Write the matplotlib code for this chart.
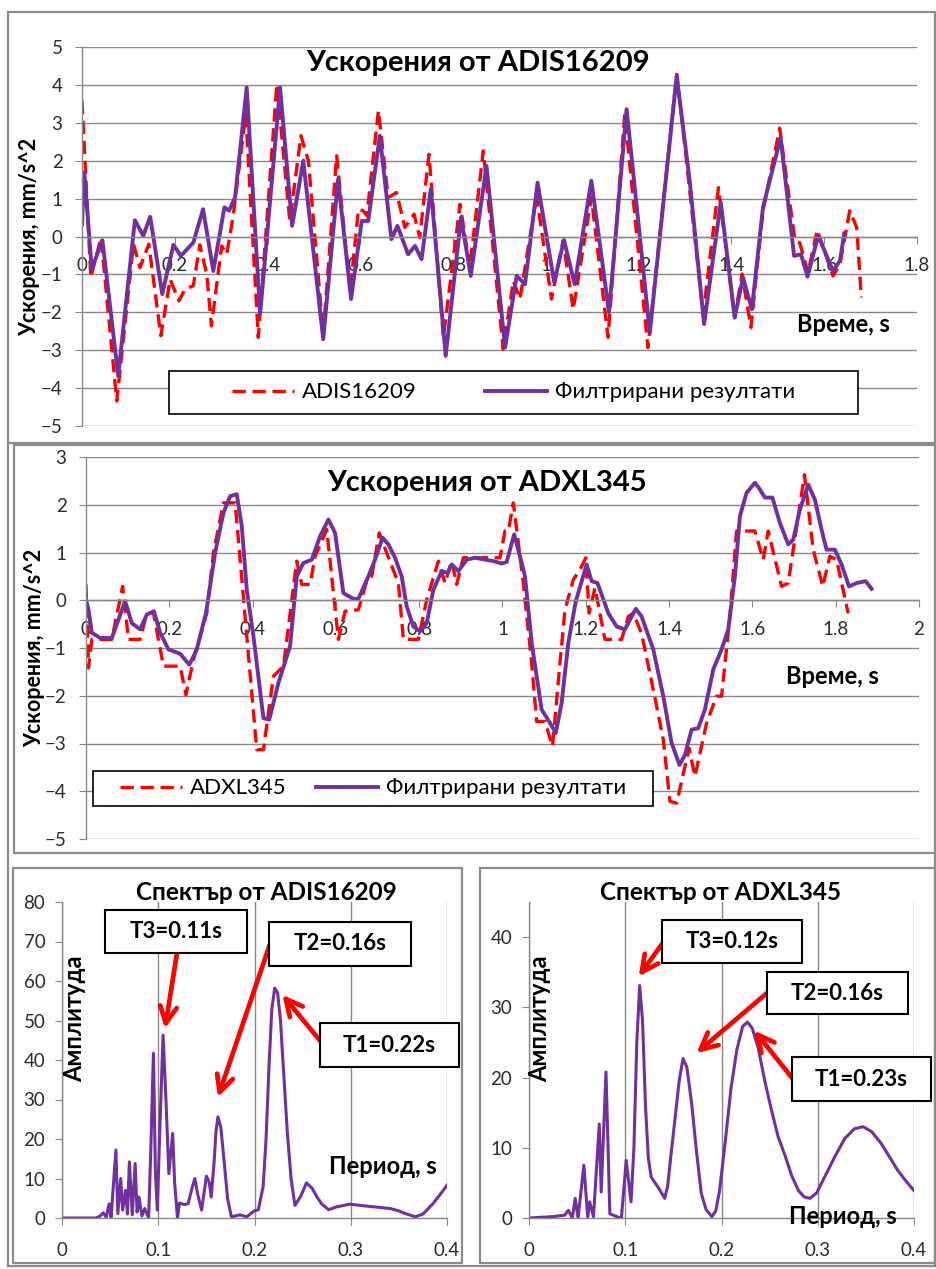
import matplotlib
matplotlib.use('Agg')
import matplotlib.pyplot as plt
from matplotlib.patches import Rectangle
from matplotlib.lines import Line2D

plt.rcParams['font.family'] = ['Lato', 'DejaVu Sans']

W, H = 937, 1269

def fx(px):
    return px / W

def fy(py):
    return 1 - py / H

# ---- ADIS16209: сурови данни и филтрирани резултати ----
t_adis = [0, 0.019, 0.041, 0.075, 0.111, 0.125, 0.144, 0.170, 0.19, 0.209, 0.222, 0.24, 0.254,
          0.269, 0.279, 0.301, 0.312, 0.326, 0.353, 0.38, 0.42, 0.448, 0.472, 0.488, 0.52, 0.549,
          0.578, 0.596, 0.606, 0.614, 0.639, 0.66, 0.678, 0.696, 0.716, 0.728, 0.748, 0.779, 0.815,
          0.836, 0.865, 0.908, 0.93, 0.944, 0.98, 1.012, 1.037, 1.059, 1.098, 1.134, 1.17, 1.22,
          1.282, 1.307, 1.339, 1.372, 1.407, 1.423, 1.442, 1.468, 1.504, 1.537, 1.547, 1.565,
          1.585, 1.619, 1.634, 1.655, 1.67, 1.68]
a_adis = [3.58, -1.08, -0.03, -4.34, -0.2, -0.82, -0.2, -2.62, -1.13, -1.7, -1.39, -1.3, -0.22,
          -1.0, -2.36, -0.25, -0.47, 0.55, 3.23, -2.66, 4.02, 0.41, 2.66, 2.0, -2.58, 2.13,
          -1.43, 0.72, 0.68, 0.55, 3.32, 1.03, 1.16, 0.24, 0.59, -0.03, 2.17, -2.66, 0.85,
          -0.82, 2.26, -2.97, -1.17, -1.65, 1.07, -1.65, -0.11, -1.92, 1.03, -2.66, 3.23, -2.93,
          4.28, 1.56, -2.05, 1.29, -2.14, -0.99, -2.4, 0.68, 2.86, -0.11, -0.16, -0.95,
          0.17, -1.04, -0.73, 0.68, 0.24, -1.61]

t_adis_f = [0, 0.005, 0.021, 0.044, 0.078, 0.114, 0.132, 0.147, 0.173, 0.197, 0.213, 0.24, 0.261,
            0.283, 0.307, 0.317, 0.33, 0.355, 0.384, 0.427, 0.453, 0.477, 0.52, 0.552, 0.58,
            0.603, 0.617, 0.642, 0.667, 0.68, 0.703, 0.718, 0.732, 0.752, 0.784, 0.817, 0.838,
            0.872, 0.912, 0.937, 0.955, 0.982, 1.018, 1.039, 1.062, 1.098, 1.136, 1.174, 1.224,
            1.282, 1.31, 1.341, 1.377, 1.407, 1.425, 1.444, 1.468, 1.506, 1.535, 1.55, 1.564,
            1.587, 1.619, 1.634, 1.643]
a_adis_f = [0.33, 1.69, -0.86, -0.1, -3.68, 0.43, 0.02, 0.52, -1.52, -0.22, -0.51, -0.16, 0.72,
            -0.91, 0.77, 0.68, 1.03, 3.93, -2.05, 3.93, 0.28, 2.0, -2.71, 1.51, -1.65,
            0.41, 0.41, 2.66, -0.07, 0.28, -0.47, -0.25, -0.6, 1.25, -3.15, 0.5, -1.04,
            1.86, -2.93, -1.04, -1.26, 1.42, -1.21, -0.09, -1.26, 1.47, -2.0, 3.36, -2.53,
            4.24, 1.47, -2.31, 0.9, -2.14, -1.08, -1.92, 0.77, 2.61, -0.51, -0.47, -1.06,
            0.02, -0.91, -0.64, 0.08]

# ---- ADXL345 ----
t_adxl = [0, 0.006, 0.014, 0.062, 0.088, 0.102, 0.13, 0.146, 0.162, 0.186, 0.226, 0.24, 0.258,
          0.29, 0.306, 0.33, 0.358, 0.368, 0.386, 0.41, 0.426, 0.45, 0.474, 0.506, 0.518, 0.538,
          0.55, 0.578, 0.606, 0.622, 0.654, 0.674, 0.686, 0.704, 0.722, 0.75, 0.762, 0.798,
          0.818, 0.846, 0.862, 0.878, 0.89, 0.906, 0.994, 1.006, 1.014, 1.026, 1.034, 1.05,
          1.07, 1.082, 1.102, 1.12, 1.138, 1.15, 1.17, 1.186, 1.2, 1.208, 1.222, 1.246, 1.286,
          1.302, 1.314, 1.334, 1.362, 1.386, 1.402, 1.418, 1.448, 1.462, 1.49, 1.514, 1.526,
          1.546, 1.562, 1.606, 1.626, 1.638, 1.67, 1.686, 1.725, 1.746, 1.769, 1.786, 1.802, 1.83]
a_adxl = [0.33, -1.42, -0.82, -0.82, 0.29, -0.82, -0.82, -0.27, -0.27, -1.38, -1.38, -1.98, -1.24,
          -0.27, 0.99, 2.04, 2.04, 1.06, -0.75, -3.13, -3.13, -1.59, -1.38, 0.82, 0.33, 0.33,
          0.92, 1.48, -0.82, -0.23, -0.2, 0.4, 0.5, 1.41, 0.99, 0.36, -0.82, -0.82,
          0.01, 0.82, 0.36, 0.82, 0.33, 0.89, 0.89, 1.45, 1.45, 2.04, 1.48, 0.36,
          -1.31, -2.54, -2.54, -3.06, -1.31, -0.2, 0.43, 0.64, 0.89, -0.27, 0.26, -0.82, -0.82,
          -0.34, -0.27, -0.7, -1.87, -2.92, -4.21, -4.25, -3.1, -3.69, -2.57, -2.01, -2.01,
          -0.34, 1.45, 1.45, 0.85, 1.45, 0.29, 0.36, 2.63, 1.06, 0.29, 0.92, 0.85, -0.27]

t_adxl_f = [0, 0.006, 0.014, 0.034, 0.062, 0.094, 0.11, 0.13, 0.146, 0.163, 0.178, 0.198, 0.226,
            0.248, 0.266, 0.288, 0.31, 0.33, 0.346, 0.362, 0.374, 0.386, 0.402, 0.426, 0.44,
            0.462, 0.49, 0.506, 0.522, 0.542, 0.562, 0.582, 0.598, 0.618, 0.642, 0.654, 0.678,
            0.694, 0.712, 0.726, 0.742, 0.758, 0.77, 0.786, 0.802, 0.818, 0.834, 0.854, 0.868,
            0.878, 0.894, 0.914, 0.934, 0.978, 0.998, 1.01, 1.028, 1.042, 1.054, 1.07, 1.094,
            1.114, 1.128, 1.142, 1.158, 1.176, 1.202, 1.214, 1.228, 1.254, 1.274, 1.294, 1.32,
            1.334, 1.362, 1.386, 1.406, 1.425, 1.438, 1.454, 1.47, 1.486, 1.506, 1.526, 1.542,
            1.558, 1.57, 1.586, 1.606, 1.618, 1.63, 1.648, 1.666, 1.686, 1.698, 1.714, 1.734,
            1.75, 1.766, 1.778, 1.798, 1.814, 1.832, 1.85, 1.872, 1.886]
a_adxl_f = [0.01, -0.2, -0.68, -0.79, -0.79, -0.02, -0.48, -0.61, -0.3, -0.23, -0.68, -1.03, -1.12,
            -1.35, -1.03, -0.27, 0.99, 1.83, 2.18, 2.22, 1.55, 0.22, -0.75, -2.47, -2.5,
            -1.73, -0.96, 0.5, 0.78, 0.85, 1.34, 1.69, 1.41, 0.15, 0.03, 0.03, 0.5,
            0.85, 1.31, 1.17, 0.89, 0.5, -0.13, -0.55, -0.65, -0.48, 0.22, 0.61, 0.57,
            0.75, 0.61, 0.85, 0.89, 0.82, 0.77, 0.8, 1.38, 0.92, 0.5, -0.89, -2.29,
            -2.57, -2.78, -2.15, -0.89, -0.02, 0.75, 0.4, 0.36, -0.27, -0.55, -0.61, -0.18,
            -0.34, -1.03, -2.01, -2.99, -3.45, -3.24, -2.71, -2.68, -2.29, -1.45, -1.03, -0.61,
            0.5, 1.76, 2.25, 2.46, 2.32, 2.15, 2.15, 1.62, 1.17, 1.27, 1.9, 2.42,
            2.11, 1.48, 1.06, 1.06, 0.75, 0.29, 0.36, 0.4, 0.24]

# ---- Спектри ----
p_adis = [0, 0.035, 0.039, 0.043, 0.046, 0.049, 0.051, 0.056, 0.058, 0.061, 0.063, 0.066, 0.068,
          0.070, 0.073, 0.076, 0.078, 0.080, 0.083, 0.086, 0.09, 0.092, 0.095, 0.097, 0.099,
          0.102, 0.105, 0.108, 0.111, 0.115, 0.117, 0.12, 0.122, 0.127, 0.131, 0.135, 0.138,
          0.141, 0.145, 0.148, 0.150, 0.153, 0.155, 0.158, 0.160, 0.162, 0.165, 0.169, 0.172,
          0.176, 0.185, 0.192, 0.199, 0.204, 0.209, 0.212, 0.215, 0.218, 0.221, 0.224, 0.227,
          0.23, 0.234, 0.238, 0.242, 0.248, 0.254, 0.26, 0.265, 0.27, 0.277, 0.285, 0.299,
          0.317, 0.341, 0.35, 0.357, 0.367, 0.375, 0.385, 0.393, 0.4]
amp_adis = [0, 0, 0.4, 1.3, 0.2, 3.6, 0.2, 17.2, 1.1, 10, 2, 7, 1,
            14.2, 0.8, 13.8, 1.5, 5.3, 0.5, 2.4, 0, 15, 41.7, 12, 2,
            25, 46.3, 30, 11.2, 21.4, 9, 0, 3.8, 3.4, 3.6, 7.5, 10,
            6, 2, 7, 10.6, 9, 5.3, 14, 22, 25.6, 23, 12.9, 5,
            0.3, 0.8, 0.3, 1.7, 2.1, 8, 20, 38, 53, 58.2, 57, 50,
            38, 22, 10, 3.2, 5.5, 8.9, 7.5, 5.3, 3.5, 2.1, 2.8, 3.5,
            3, 2.4, 1.8, 1.1, 0.3, 1.0, 3.5, 6, 8.3]

p_adxl = [0, 0.025, 0.037, 0.041, 0.045, 0.048, 0.051, 0.057, 0.061, 0.063, 0.067, 0.073, 0.075,
          0.08, 0.084, 0.093, 0.096, 0.101, 0.106, 0.109, 0.112, 0.115, 0.118, 0.121, 0.124,
          0.127, 0.134, 0.138, 0.141, 0.144, 0.148, 0.152, 0.156, 0.16, 0.164, 0.169, 0.174,
          0.179, 0.184, 0.19, 0.194, 0.198, 0.204, 0.21, 0.216, 0.222, 0.227, 0.232, 0.238,
          0.245, 0.252, 0.259, 0.266, 0.273, 0.28, 0.286, 0.292, 0.299, 0.307, 0.318, 0.328,
          0.338, 0.347, 0.356, 0.366, 0.375, 0.383, 0.392, 0.4]
amp_adxl = [0, 0.2, 0.4, 1.1, 0, 2.8, 0, 7.5, 0.1, 2.3, 0.2, 13.4, 3.7,
            20.8, 0.6, 0.1, 0, 8.2, 2.3, 10, 25, 33.1, 28, 16, 8.5,
            5.8, 4.4, 3.5, 2.8, 4.5, 9.6, 14.5, 19.5, 22.7, 21.5, 16.3, 9.5,
            3.5, 1.2, 0.2, 1.0, 3.9, 11, 18.6, 24, 27.3, 27.9, 27, 24.3,
            19.5, 15.3, 11.5, 8.9, 6, 3.9, 3.0, 2.8, 3.6, 5.8, 8.8, 11.3,
            12.7, 13, 12.3, 10.6, 8.6, 6.8, 5.2, 3.9]

# пикове: етикет, връх на стрелката (период, амплитуда)
peaks_adis = [('T3=0.11s', 0.107, 48), ('T2=0.16s', 0.162, 30.6), ('T1=0.22s', 0.229, 56.5)]
peaks_adxl = [('T3=0.12s', 0.114, 34.4), ('T2=0.16s', 0.174, 23.5), ('T1=0.23s', 0.234, 26.7)]

PURPLE = '#7030A0'
RED = '#FF0000'
GRID = '#888888'
TXT = '#2b2b2b'

fig = plt.figure(figsize=(W / 100, H / 100), dpi=100)


def frame(x0, y0, x1, y1):
    fig.patches.append(Rectangle((fx(x0), fy(y1)), fx(x1) - fx(x0), fy(y0) - fy(y1),
                                 transform=fig.transFigure, fill=False,
                                 edgecolor='#8c8c8c', lw=1.6))


def time_axes(rect, xmax, ymin, ymax):
    ax = fig.add_axes(rect)
    ax.set_xlim(0, xmax)
    ax.set_ylim(ymin, ymax)
    ax.set_xticks([round(0.2 * i, 1) for i in range(int(xmax / 0.2) + 1)])
    ax.set_yticks(range(ymin, ymax + 1))
    ax.xaxis.set_major_formatter(matplotlib.ticker.FuncFormatter(lambda v, p: f'{v:g}'))
    for s in ['top', 'right']:
        ax.spines[s].set_visible(False)
    ax.spines['bottom'].set_position(('data', 0))
    for s in ['bottom', 'left']:
        ax.spines[s].set_color(GRID)
        ax.spines[s].set_linewidth(1)
    ax.grid(axis='y', color=GRID, lw=1)
    ax.set_axisbelow(True)
    ax.tick_params(axis='both', colors=GRID, labelcolor=TXT, labelsize=13.5, length=5)
    ax.tick_params(axis='x', pad=10)
    ax.tick_params(axis='y', pad=9)
    return ax


def legend_box(ax, x0, y0, x1, y1, label, colspace):
    frame_r = Rectangle((fx(x0), fy(y1)), fx(x1) - fx(x0), fy(y0) - fy(y1),
                        transform=fig.transFigure, fill=True, facecolor='white',
                        edgecolor='black', lw=1.2, zorder=5)
    fig.patches.append(frame_r)
    handles = [Line2D([], [], color=RED, lw=2.4, dashes=(4, 2)),
               Line2D([], [], color=PURPLE, lw=2.8)]
    leg = fig.legend(handles, [label, 'Филтрирани резултати'], loc='center',
                     bbox_to_anchor=(fx((x0 + x1) / 2), fy((y0 + y1) / 2)), ncol=2,
                     frameon=False, fontsize=16, handlelength=2.8, handletextpad=0.35,
                     columnspacing=colspace)
    leg.set_zorder(6)


# ---- рамки ----
frame(8, 12, 935, 443)
frame(14, 445, 935, 853)
frame(13, 868, 462, 1263)
frame(480, 868, 935, 1263)
fig.add_artist(Line2D([fx(8), fx(8)], [fy(443), fy(1266)], color='#8c8c8c', lw=1.6))
fig.add_artist(Line2D([fx(8), fx(935)], [fy(1266), fy(1266)], color='#8c8c8c', lw=1.6))
fig.add_artist(Line2D([fx(935), fx(935)], [fy(853), fy(1266)], color='#8c8c8c', lw=1.6))

# ---- графика 1 ----
ax1 = time_axes([fx(82), fy(426), fx(917) - fx(82), fy(47) - fy(426)], 1.8, -5, 5)
ax1.plot(t_adis, a_adis, color=RED, lw=2.4, dashes=(4, 2))
ax1.plot(t_adis_f, a_adis_f, color=PURPLE, lw=2.8)
fig.text(fx(478), fy(63), 'Ускорения от ADIS16209', ha='center', va='center',
         fontsize=21, fontweight='bold', color='black')
fig.text(fx(30), fy(237), 'Ускорения, mm/s^2', ha='center', va='center', rotation=90,
         fontsize=15.5, fontweight='bold', color='black')
fig.text(fx(843), fy(325), 'Време, s', ha='center', va='center',
         fontsize=17, fontweight='bold', color='black')
legend_box(ax1, 169, 371, 858, 414, 'ADIS16209', 3.1)

# ---- графика 2 ----
ax2 = time_axes([fx(86), fy(839), fx(919) - fx(86), fy(457) - fy(839)], 2.0, -5, 3)
ax2.plot(t_adxl, a_adxl, color=RED, lw=2.4, dashes=(4, 2))
ax2.plot(t_adxl_f, a_adxl_f, color=PURPLE, lw=2.8)
fig.text(fx(487), fy(483), 'Ускорения от ADXL345', ha='center', va='center',
         fontsize=21, fontweight='bold', color='black')
fig.text(fx(35), fy(648), 'Ускорения, mm/s^2', ha='center', va='center', rotation=90,
         fontsize=15.5, fontweight='bold', color='black')
fig.text(fx(832), fy(677), 'Време, s', ha='center', va='center',
         fontsize=17, fontweight='bold', color='black')
legend_box(ax2, 93, 771, 653, 806, 'ADXL345', 1.3)


# ---- спектри ----
def spectrum_axes(rect, ymax, yticks):
    ax = fig.add_axes(rect)
    ax.set_xlim(0, 0.4)
    ax.set_ylim(0, ymax)
    ax.set_xticks([0, 0.1, 0.2, 0.3, 0.4])
    ax.set_xticklabels(['0', '0.1', '0.2', '0.3', '0.4'])
    ax.set_yticks(yticks)
    for s in ['top', 'right']:
        ax.spines[s].set_visible(False)
    for s in ['bottom', 'left']:
        ax.spines[s].set_color(GRID)
        ax.spines[s].set_linewidth(1)
    ax.grid(axis='x', color=GRID, lw=1)
    ax.set_axisbelow(True)
    ax.tick_params(axis='both', colors=GRID, labelcolor=TXT, labelsize=13.5, length=5)
    ax.tick_params(axis='x', pad=12)
    ax.tick_params(axis='y', pad=7)
    return ax


def peak_notes(ax, peaks, boxes, starts):
    for (label, px, py), (bx0, by0, bx1, by1), (sx, sy) in zip(peaks, boxes, starts):
        ax.annotate('', xy=(px, py), xycoords='data',
                    xytext=(fx(sx), fy(sy)), textcoords='figure fraction',
                    arrowprops=dict(arrowstyle='->', color=RED, lw=3.4,
                                    mutation_scale=30, shrinkA=0, shrinkB=0))
        fig.patches.append(Rectangle((fx(bx0), fy(by1)), fx(bx1) - fx(bx0), fy(by0) - fy(by1),
                                     transform=fig.transFigure, facecolor='white',
                                     edgecolor='black', lw=1.5, zorder=5))
        fig.text(fx((bx0 + bx1) / 2), fy((by0 + by1) / 2), label, ha='center', va='center',
                 fontsize=16, fontweight='bold', color='black', zorder=6)


ax3 = spectrum_axes([fx(62), fy(1218), fx(447) - fx(62), fy(902) - fy(1218)], 80,
                    range(0, 81, 10))
ax3.plot(p_adis, amp_adis, color=PURPLE, lw=2.2)
fig.text(fx(266), fy(892), 'Спектър от ADIS16209', ha='center', va='center',
         fontsize=17.5, fontweight='bold', color='black')
fig.text(fx(75), fy(1019), 'Амплитуда', ha='center', va='center', rotation=90,
         fontsize=17, fontweight='bold', color='black')
fig.text(fx(383), fy(1167), 'Период, s', ha='center', va='center',
         fontsize=17, fontweight='bold', color='black')
peak_notes(ax3, peaks_adis,
           [(105, 910, 247, 953), (269, 922, 411, 966), (320, 1023, 459, 1067)],
           [(177, 953), (270, 944), (322, 1043)])

ax4 = spectrum_axes([fx(529), fy(1218), fx(914) - fx(529), fy(902) - fy(1218)], 45,
                    range(0, 41, 10))
ax4.plot(p_adxl, amp_adxl, color=PURPLE, lw=2.2)
fig.text(fx(721), fy(892), 'Спектър от ADXL345', ha='center', va='center',
         fontsize=17.5, fontweight='bold', color='black')
fig.text(fx(540), fy(1019), 'Амплитуда', ha='center', va='center', rotation=90,
         fontsize=17, fontweight='bold', color='black')
fig.text(fx(843), fy(1217), 'Период, s', ha='center', va='center',
         fontsize=17, fontweight='bold', color='black')
peak_notes(ax4, peaks_adxl,
           [(662, 920, 802, 963), (767, 972, 908, 1014), (792, 1057, 931, 1101)],
           [(662, 944), (767, 993), (793, 1079)])

fig.savefig('out.png', dpi=100)
